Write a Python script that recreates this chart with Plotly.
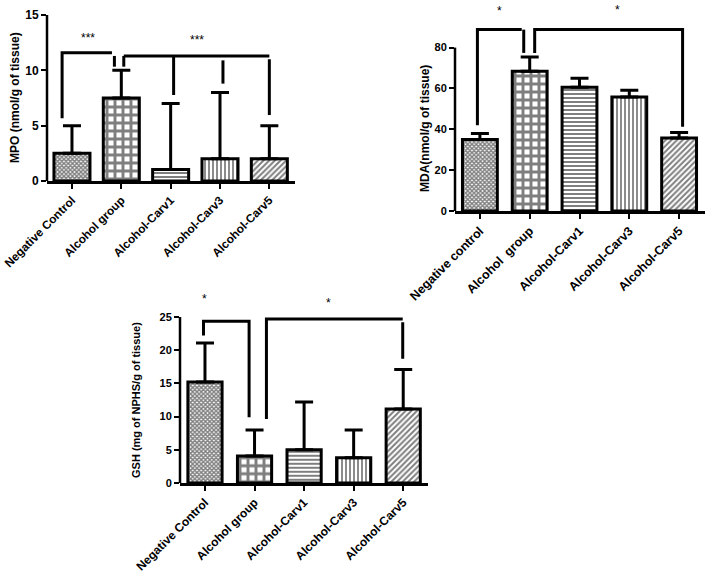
import plotly.graph_objects as go

# ---------------- data ----------------
groups_mpo = ["Negative Control", "Alcohol group", "Alcohol-Carv1", "Alcohol-Carv3", "Alcohol-Carv5"]
groups_mda = ["Negative control", "Alcohol\u00a0 group", "Alcohol-Carv1", "Alcohol-Carv3", "Alcohol-Carv5"]
groups_gsh = ["Negative Control", "Alcohol group", "Alcohol-Carv1", "Alcohol-Carv3", "Alcohol-Carv5"]

mpo_mean = [2.5, 7.5, 1.05, 2.0, 2.0]
mpo_err = [2.5, 2.5, 5.95, 6.0, 3.0]
mda_mean = [35.0, 68.4, 60.6, 55.8, 35.8]
mda_err = [3.0, 7.0, 4.4, 3.3, 2.6]
gsh_mean = [15.2, 4.05, 5.0, 3.8, 11.15]
gsh_err = [5.9, 3.95, 7.2, 4.2, 5.95]

mpo_ticks = [0, 5, 10, 15]
mda_ticks = [0, 20, 40, 60, 80]
gsh_ticks = [0, 5, 10, 15, 20, 25]

# significance brackets: list of polylines (x in group index, y in data units)
mpo_brackets = [
    [(-0.2, 5.66), (-0.2, 11.6), (0.81, 11.6)],
    [(0.86, 11.3), (0.86, 10.33)],
    [(1.05, 11.3), (1.05, 10.33)],
    [(1.05, 11.3), (4.0, 11.3)],
    [(2.06, 11.3), (2.06, 7.77)],
    [(3.06, 10.9), (3.06, 8.8)],
    [(4.0, 11.0), (4.0, 5.96)],
]
mpo_stars = [(0.32, 13.2, "***"), (2.53, 13.1, "***")]

mda_brackets = [
    [(-0.05, 42.0), (-0.05, 88.8), (0.84, 88.8)],
    [(0.88, 88.8), (0.88, 77.4)],
    [(1.10, 77.4), (1.10, 88.8), (4.07, 88.8), (4.07, 41.2)],
]
mda_stars = [(0.4, 99.8, "*"), (2.76, 101.8, "*")]

gsh_brackets = [
    [(-0.03, 22.2), (-0.03, 24.35), (0.89, 24.35), (0.89, 9.9)],
    [(1.24, 9.64), (1.24, 24.7), (3.99, 24.7)],
    [(3.99, 24.2), (3.99, 18.7)],
]
gsh_stars = [(-0.01, 28.2, "*"), (2.5, 27.7, "*")]

patterns = ["x", "+", "-", "|", "/"]
pattern_sizes = [3, 8, 4, 4, 4]
pattern_solid = [0.7, 0.6, 0.5, 0.45, 0.5]

# ---------------- layout geometry (pixels) ----------------
W, H = 705, 572
FONT = "Liberation Sans, Arial, sans-serif"

panels = [
    dict(names=groups_mpo, mean=mpo_mean, err=mpo_err, ticks=mpo_ticks,
         brackets=mpo_brackets, stars=mpo_stars, title="MPO (nmol/g of tissue)",
         ax_px=(47, 295), zero_py=181, top_py=15, ymax=15, xr=(-0.506, 4.52),
         title_x=15, tick_size=12, title_size=12, cat_size=11.8, width=0.73),
    dict(names=groups_mda, mean=mda_mean, err=mda_err, ticks=mda_ticks,
         brackets=mda_brackets, stars=mda_stars, title="MDA(nmol/g of tissue)",
         ax_px=(455, 705), zero_py=211, top_py=47, ymax=80, xr=(-0.50, 4.52),
         title_x=425, tick_size=11, title_size=12, cat_size=12.5, width=0.70),
    dict(names=groups_gsh, mean=gsh_mean, err=gsh_err, ticks=gsh_ticks,
         brackets=gsh_brackets, stars=gsh_stars, title="GSH (mg of NPHS/g of tissue)",
         ax_px=(180, 428), zero_py=483, top_py=317, ymax=25, xr=(-0.504, 4.50),
         title_x=136, tick_size=11, title_size=11, cat_size=12, width=0.69),
]

fig = go.Figure()
shapes = []
annotations = []

for i, p in enumerate(panels):
    k = "" if i == 0 else str(i + 1)
    xa, ya = "x" + k, "y" + k
    # y range extended so brackets/stars fit inside the plot area
    ppu = (p["zero_py"] - p["top_py"]) / p["ymax"]
    all_y = [pt[1] for br in p["brackets"] for pt in br] + [s[1] for s in p["stars"]]
    yr_max = max(p["ymax"], max(all_y) + 1.5)
    plot_top_py = p["zero_py"] - yr_max * ppu
    ydom = [1 - p["zero_py"] / H, min(1.0, 1 - plot_top_py / H)]
    xdom = [p["ax_px"][0] / W, min(1.0, p["ax_px"][1] / W)]

    fig.add_trace(go.Bar(
        x=list(range(len(p["names"]))), y=p["mean"], width=p["width"],
        xaxis=xa, yaxis=ya, showlegend=False, hoverinfo="skip",
        marker=dict(color="white", line=dict(color="black", width=3),
                    pattern=dict(shape=patterns, size=pattern_sizes, solidity=pattern_solid,
                                 fgcolor="black", bgcolor="white", fillmode="overlay")),
        error_y=dict(type="data", array=p["err"], arrayminus=[0] * len(p["err"]),
                     symmetric=False, color="black", thickness=3, width=9),
    ))

    fig.update_layout(**{
        ("xaxis" + k): dict(domain=xdom, range=list(p["xr"]), anchor=ya, automargin=False,
                            tickvals=list(range(len(p["names"]))), ticktext=p["names"],
                            tickangle=-45, showline=True, linecolor="black", linewidth=2.5,
                            ticks="outside", ticklen=5, tickwidth=2, tickcolor="black",
                            showgrid=False, zeroline=False, ticklabeloverflow="allow",
                            tickfont=dict(family=FONT, size=p["cat_size"], color="black", weight="bold")),
        ("yaxis" + k): dict(domain=ydom, range=[0, yr_max], anchor=xa, automargin=False,
                            tickvals=p["ticks"], ticks="outside", ticklen=5, tickwidth=2,
                            tickcolor="black", showline=False, showgrid=False, zeroline=False,
                            ticklabeloverflow="allow",
                            tickfont=dict(family=FONT, size=p["tick_size"], color="black", weight="bold")),
    })

    # y-axis line up to the top tick only
    shapes.append(dict(type="line", xref=xa + " domain", yref=ya, x0=0, x1=0,
                       y0=0, y1=p["ymax"], line=dict(color="black", width=2.5)))
    # brackets
    for br in p["brackets"]:
        path = "M " + " L ".join(f"{x},{y}" for x, y in br)
        shapes.append(dict(type="path", xref=xa, yref=ya, path=path,
                           line=dict(color="black", width=3)))
    # stars: given as glyph centre; asterisks sit high in the text box
    for (sx, sy, txt) in p["stars"]:
        glyph_py = p["zero_py"] - sy * ppu
        box_py = max(glyph_py + 3.5, 9.0)
        annotations.append(dict(x=sx, y=(p["zero_py"] - box_py) / ppu, xref=xa, yref=ya,
                                text=txt, showarrow=False, yanchor="middle",
                                font=dict(family=FONT, size=12, color="black")))
    # y title
    annotations.append(dict(x=p["title_x"] / W, y=(ydom[0] + (1 - p["top_py"] / H)) / 2,
                            xref="paper", yref="paper", text=p["title"], textangle=-90,
                            showarrow=False, xanchor="center", yanchor="middle",
                            font=dict(family=FONT, size=p["title_size"], color="black", weight="bold")))

fig.update_layout(width=W, height=H, margin=dict(l=0, r=0, t=0, b=0, autoexpand=False),
                  paper_bgcolor="white", plot_bgcolor="white", hovermode=False,
                  shapes=shapes, annotations=annotations, bargap=0.3)

fig.write_html("out.html", config={"displayModeBar": False},
               post_script="document.body.style.margin='0';document.body.style.padding='0';")
